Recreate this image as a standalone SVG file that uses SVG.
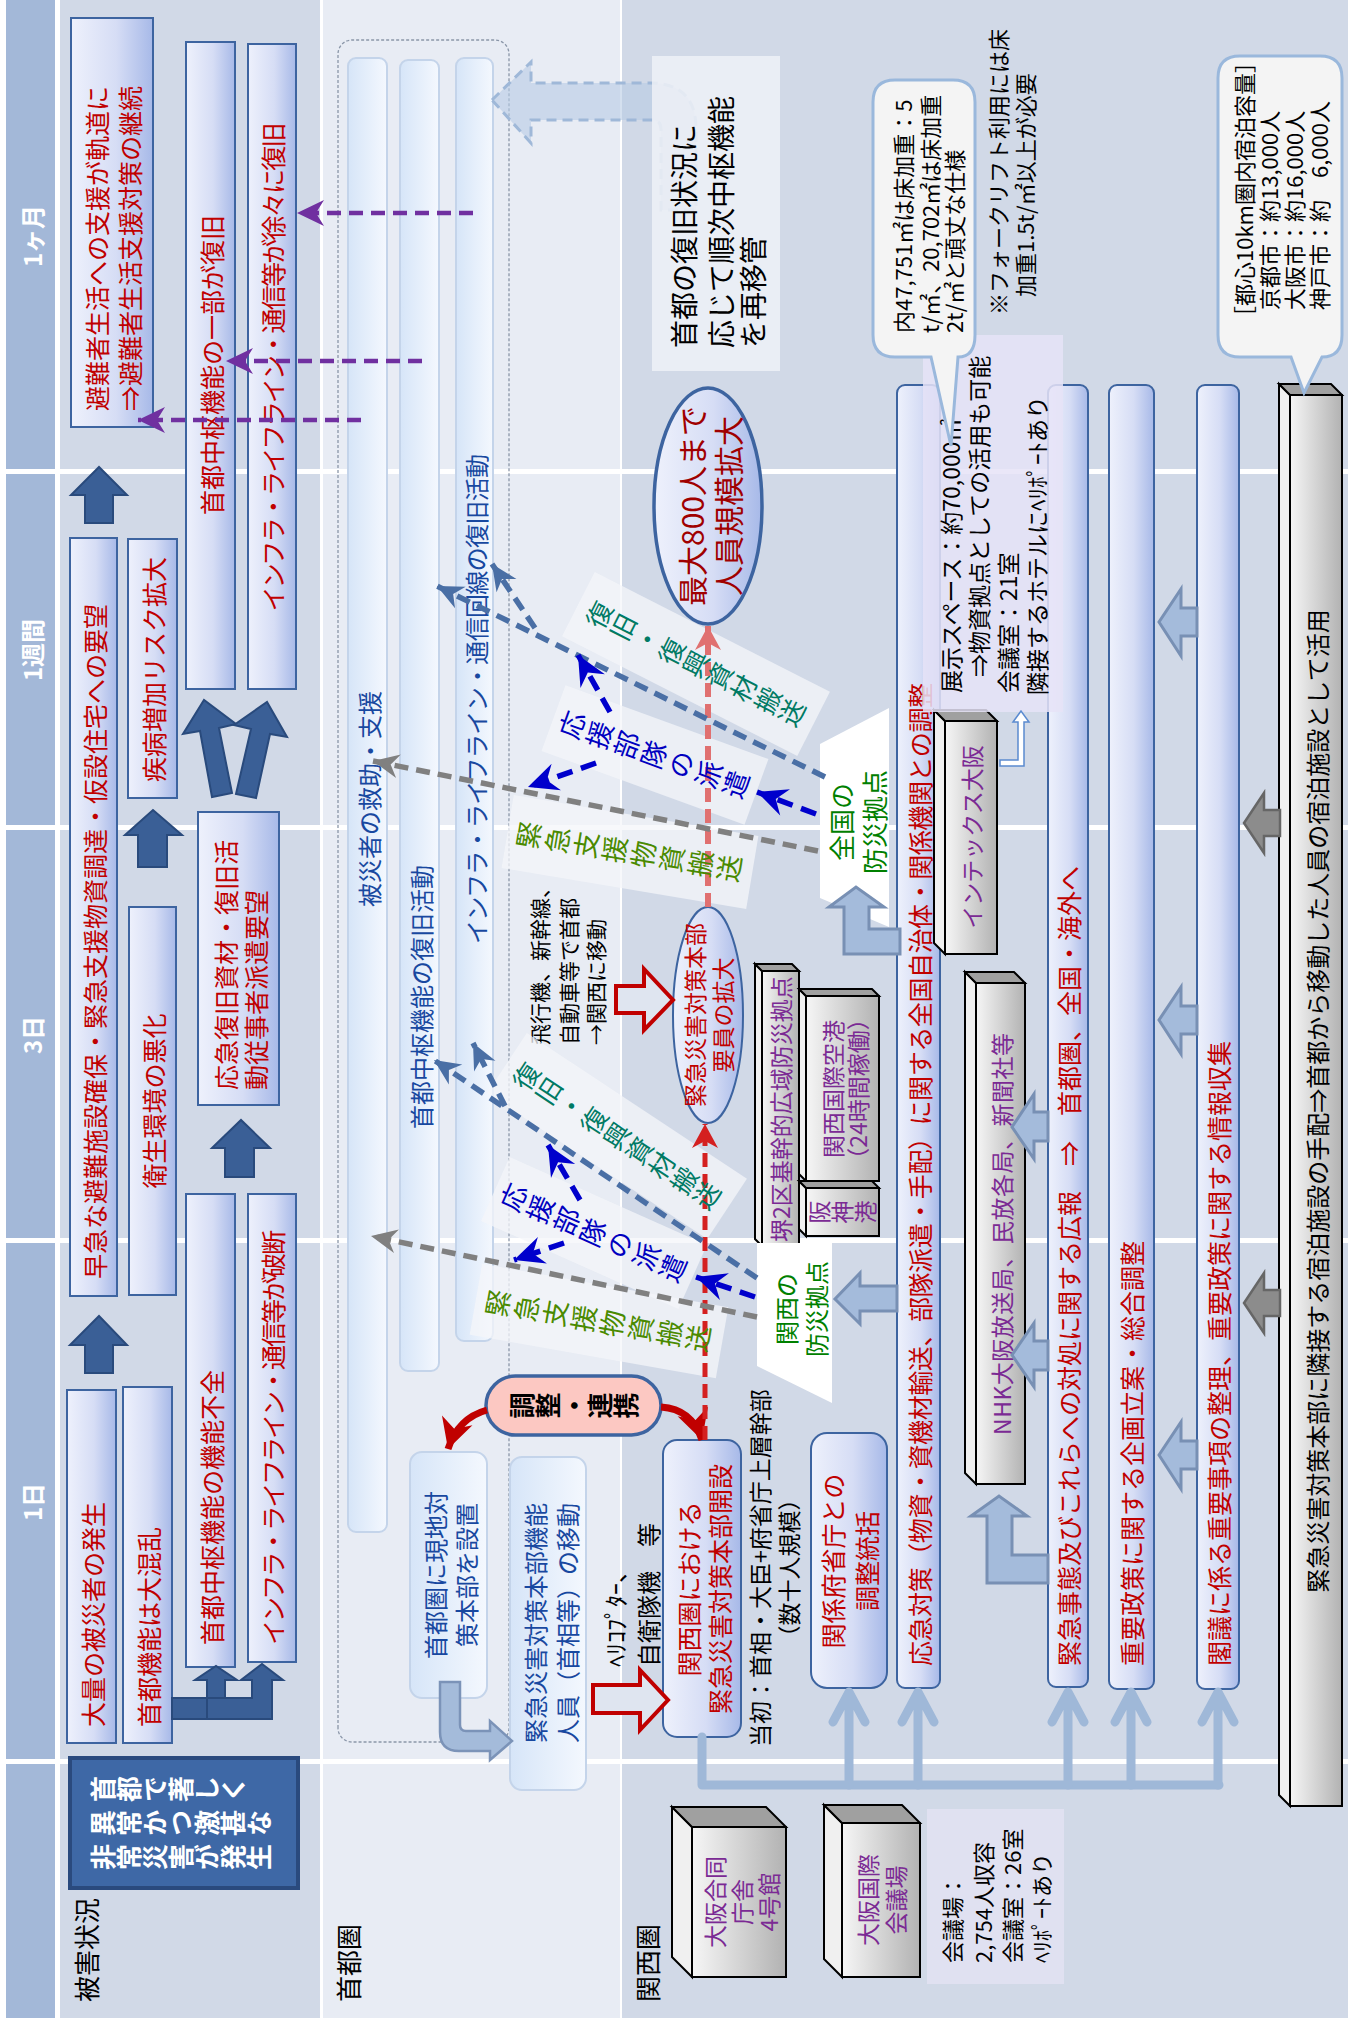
<svg xmlns="http://www.w3.org/2000/svg" width="1348" height="2022" viewBox="0 0 1348 2022">
<style>
text{font-family:"Noto Sans CJK JP","Noto Sans",sans-serif;dominant-baseline:central}
.hd{fill:#fff;font-size:24px;font-weight:bold;text-anchor:middle}
.lb{fill:#000;font-size:26px}
.hb{fill:url(#gB);stroke:#3d64a0;stroke-width:2}
.rt{fill:#c00000;font-size:25px}
.bt{fill:#1848a0;font-size:24px}
.sb{fill:url(#gL);stroke:#c4d4ea;stroke-width:2}
.darr{fill:#3a5f96;stroke:#294a7c;stroke-width:2}
.larr{fill:#a4bbdb;stroke:#7890b4;stroke-width:3}
.garr{fill:#8c8c8c;stroke:#666;stroke-width:2.5}
.ff{fill:url(#gG);stroke:#000;stroke-width:2}
.tf{fill:#f0f0f0;stroke:#000;stroke-width:2}
.ef{fill:#a0a0a0;stroke:#000;stroke-width:2}
.pt{fill:#7b2a94;font-size:23px;text-anchor:middle}
.bk{fill:#000;font-size:22px}
.m{text-anchor:middle}
.vt{writing-mode:vertical-rl}
.dg{fill:none;stroke:#808080;stroke-width:5.5;stroke-dasharray:14 8;marker-end:url(#aGray)}
.dn{fill:none;stroke:#0000cc;stroke-width:5.5;stroke-dasharray:16 9;marker-end:url(#aNavy)}
.ds{fill:none;stroke:#4a6fa5;stroke-width:5.5;stroke-dasharray:14 8;marker-end:url(#aSteel)}
.dp{fill:none;stroke:#7030a0;stroke-width:4.5;stroke-dasharray:14 8;marker-end:url(#aPur)}
.lbl{fill:#f4f6fa;fill-opacity:0.75}
.tl{fill:#007a64;font-size:26px;text-anchor:middle}
.nv{fill:#0000c0;font-size:27px;text-anchor:middle}
.ol{fill:#4a8a00;font-size:27px;text-anchor:middle}
</style>
<defs>
<linearGradient id="gB" x1="0" y1="0" x2="0" y2="1"><stop offset="0" stop-color="#eef1fc"/><stop offset="0.55" stop-color="#d6ddf5"/><stop offset="1" stop-color="#a7b9e8"/></linearGradient>
<linearGradient id="gL" x1="0" y1="0" x2="0" y2="1"><stop offset="0" stop-color="#d6e5f8"/><stop offset="1" stop-color="#f4f8fe"/></linearGradient>
<linearGradient id="gG" x1="0" y1="0" x2="0" y2="1"><stop offset="0" stop-color="#f6f6f6"/><stop offset="1" stop-color="#b2b2b2"/></linearGradient>
<marker id="aGray" markerUnits="userSpaceOnUse" markerWidth="32" markerHeight="30" viewBox="-30 -15 32 30" refX="0" refY="0" orient="auto"><path d="M0,0 L-26,-12 L-18,0 L-26,12 Z" fill="#808080"/></marker>
<marker id="aNavy" markerUnits="userSpaceOnUse" markerWidth="34" markerHeight="34" viewBox="-32 -17 34 34" refX="0" refY="0" orient="auto"><path d="M0,0 L-30,-14 L-20,0 L-30,14 Z" fill="#0000cc"/></marker>
<marker id="aSteel" markerUnits="userSpaceOnUse" markerWidth="32" markerHeight="30" viewBox="-30 -15 32 30" refX="0" refY="0" orient="auto"><path d="M0,0 L-26,-12 L-18,0 L-26,12 Z" fill="#4a6fa5"/></marker>
<marker id="aPur" markerUnits="userSpaceOnUse" markerWidth="32" markerHeight="30" viewBox="-30 -15 32 30" refX="0" refY="0" orient="auto"><path d="M0,0 L-27,-13 L-19,0 L-27,13 Z" fill="#7030a0"/></marker>
<marker id="aRed" markerUnits="userSpaceOnUse" markerWidth="34" markerHeight="36" viewBox="-32 -18 34 36" refX="0" refY="0" orient="auto"><path d="M0,0 L-30,-16 L-21,0 L-30,16 Z" fill="#c00000"/></marker>
<marker id="aRd" markerUnits="userSpaceOnUse" markerWidth="30" markerHeight="30" viewBox="-28 -15 30 30" refX="0" refY="0" orient="auto"><path d="M0,0 L-24,-13 L-17,0 L-24,13 Z" fill="#d42020"/></marker>
<marker id="aPk" markerUnits="userSpaceOnUse" markerWidth="30" markerHeight="30" viewBox="-28 -15 30 30" refX="0" refY="0" orient="auto"><path d="M0,0 L-24,-13 L-17,0 L-24,13 Z" fill="#e07070"/></marker>
</defs>
<rect width="1348" height="2022" fill="#fff"/>
<g transform="matrix(0,-1,1,0,0,2022)">
<g id="bands">
<rect x="4" y="6" width="2018" height="49" fill="#a3b8d8"/>
<rect x="4" y="60" width="2018" height="260" fill="#d1d9e7"/>
<rect x="4" y="323" width="2018" height="297" fill="#e8ecf4"/>
<rect x="4" y="622" width="2018" height="726" fill="#d1d9e7"/>
<g fill="#fff"><rect x="258" y="0" width="5" height="1348"/><rect x="779" y="0" width="5" height="1348"/><rect x="1192" y="0" width="5" height="1348"/><rect x="1548" y="0" width="5" height="1348"/></g>
<text class="hd" x="520" y="31">1日</text>
<text class="hd" x="987" y="31">3日</text>
<text class="hd" x="1372" y="31">1週間</text>
<text class="hd" x="1786" y="31">1ヶ月</text>
<text class="lb" x="20" y="85">被害状況</text>
<text class="lb" x="20" y="347">首都圏</text>
<text class="lb" x="20" y="646">関西圏</text>
</g>
<g id="n-disaster">
<rect x="134" y="70" width="130" height="228" fill="#3e68a6" stroke="#2a4a7e" stroke-width="4"/>
<text class="vt" x="233" y="90" fill="#fff" font-size="26" font-weight="bold">首都で著しく</text>
<text class="vt" x="199" y="90" fill="#fff" font-size="26" font-weight="bold">異常かつ激甚な</text>
<text class="vt" x="165" y="90" fill="#fff" font-size="26" font-weight="bold">非常災害が発生</text>
</g>
<g id="n-h1"><rect class="hb" x="279" y="67" width="353" height="49"/><text class="rt" x="295" y="92" font-size="26">大量の被災者の発生</text></g>
<g id="n-h2"><rect class="hb" x="279" y="123" width="356" height="49"/><text class="rt" x="295" y="148" font-size="26">首都機能は大混乱</text></g>
<g id="n-h3"><rect class="hb" x="355" y="186" width="473" height="49"/><text class="rt" x="377" y="211">首都中枢機能の機能不全</text></g>
<g id="n-h4"><rect class="hb" x="360" y="248" width="468" height="48"/><text class="rt" x="377" y="272" textLength="415">インフラ・ライフライン・通信等が破断</text></g>
<g id="n-h5"><rect class="hb" x="726" y="70" width="758" height="47"/><text class="rt" x="743" y="94">早急な避難施設確保・緊急支援物資調達・仮設住宅への要望</text></g>
<g id="n-h6"><rect class="hb" x="727" y="129" width="388" height="47"/><text class="rt m" x="921" y="153">衛生環境の悪化</text></g>
<g id="n-h7"><rect class="hb" x="1224" y="128" width="259" height="49"/><text class="rt" x="1240" y="153">疾病増加リスク拡大</text></g>
<g id="n-h8"><rect class="hb" x="917" y="198" width="293" height="81"/><text class="rt" x="932" y="225">応急復旧資材・復旧活</text><text class="rt" x="932" y="255">動従事者派遣要望</text></g>
<g id="n-h9"><rect class="hb" x="1333" y="186" width="647" height="49"/><text class="rt m" x="1657" y="211" font-size="26">首都中枢機能の一部が復旧</text></g>
<g id="n-h10"><rect class="hb" x="1333" y="248" width="645" height="48"/><text class="rt m" x="1655" y="272" textLength="489">インフラ・ライフライン・通信等が徐々に復旧</text></g>
<g id="n-h11"><rect class="hb" x="1595" y="71" width="409" height="82"/><text class="rt" x="1611" y="96" font-size="26">避難者生活への支援が軌道に</text><text class="rt" x="1611" y="129" font-size="26">⇒避難者生活支援対策の継続</text></g>
<g id="n-container"><rect x="280" y="338" width="1702" height="171" rx="14" fill="none" stroke="#8a96a8" stroke-width="1.3" stroke-dasharray="3 2"/></g>
<g id="n-barA"><rect class="sb" x="490" y="348" width="1474" height="39" rx="8"/><text class="bt" x="1115" y="368">被災者の救助・支援</text></g>
<g id="n-barB"><rect class="sb" x="651" y="400" width="1311" height="39" rx="8"/><text class="bt" x="893" y="420" font-size="25">首都中枢機能の復旧活動</text></g>
<g id="n-barC"><rect class="sb" x="681" y="456" width="1283" height="37" rx="8"/><text class="bt" x="1078" y="475" textLength="490">インフラ・ライフライン・通信回線の復旧活動</text></g>
<g id="n-local"><rect class="sb" x="324" y="410" width="246" height="77" rx="12"/><text class="bt m" x="447" y="434" font-size="25">首都圏に現地対</text><text class="bt m" x="447" y="465" font-size="25">策本部を設置</text></g>
<g id="n-move"><rect class="sb" x="232" y="510" width="333" height="76" rx="12"/><text class="bt m" x="399" y="534" font-size="25">緊急災害対策本部機能</text><text class="bt m" x="399" y="566" font-size="25">人員（首相等）の移動</text></g>
<g id="n-coord"><rect x="587" y="486" width="59" height="175" rx="29.5" fill="#fcc8c2" stroke="#3d64a0" stroke-width="3.5"/><text class="vt m" x="616.5" y="574" font-size="26" font-weight="bold" fill="#000">調整・連携</text></g>
<g id="n-return">
<path d="M1922,492 L1960,531 L1939,531 L1939,650 Q1939,696 1893,696 L1812,696 L1812,661 L1893,661 Q1902,661 1902,652 L1902,531 L1879,531 Z" fill="#b8cbe4" fill-opacity="0.6" stroke="#9fb8d8" stroke-width="3" stroke-dasharray="10 6"/>
<rect x="1651" y="652" width="315" height="128" fill="#eef1f7" fill-opacity="0.85"/>
<text x="1674" y="683" font-size="28" fill="#000">首都の復旧状況に</text>
<text x="1674" y="720" font-size="28" fill="#000">応じて順次中枢機能</text>
<text x="1674" y="752" font-size="28" fill="#000">を再移管</text>
</g>
<g id="n-kbox"><rect class="hb" x="285" y="663" width="297" height="78" rx="14"/><text class="rt m" x="433" y="688" font-size="26">関西圏における</text><text class="rt m" x="433" y="719" font-size="24">緊急災害対策本部開設</text></g>
<g id="n-init"><text class="m" x="454" y="759" font-size="23" fill="#000">当初：首相・大臣+府省庁上層幹部</text><text class="m" x="454" y="788" font-size="23" fill="#000">（数十人規模）</text></g>
<g id="n-kfu"><rect class="hb" x="334" y="811" width="255" height="76" rx="16"/><text class="rt m" x="461" y="832" font-size="26">関係府省庁との</text><text class="rt m" x="461" y="866" font-size="26">調整統括</text></g>
<g id="n-bar1"><rect class="hb" x="334" y="897" width="1303" height="43" rx="8"/><text class="rt" x="356" y="919" textLength="983">応急対策（物資・資機材輸送、部隊派遣・手配）に関する全国自治体・関係機関との調整</text></g>
<g id="n-bar2"><rect class="hb" x="335" y="1048" width="1302" height="40" rx="8"/><text class="rt" x="356" y="1068">緊急事態及びこれらへの対処に関する広報　⇒　首都圏、全国・海外へ</text></g>
<g id="n-bar3"><rect class="hb" x="333" y="1109" width="1304" height="45" rx="8"/><text class="rt" x="356" y="1131" font-size="26">重要政策に関する企画立案・総合調整</text></g>
<g id="n-bar4"><rect class="hb" x="333" y="1197" width="1304" height="42" rx="8"/><text class="rt" x="356" y="1218" font-size="26">閣議に係る重要事項の整理、重要政策に関する情報収集</text></g>
<g id="n-hotel">
<rect class="ff" x="216" y="1290" width="1411" height="52"/>
<polygon class="tf" points="216,1290 227,1279 1638,1279 1627,1290"/>
<polygon class="ef" points="1627,1290 1638,1279 1638,1331 1627,1342"/>
<text class="m" x="921" y="1316" font-size="24" fill="#000">緊急災害対策本部に隣接する宿泊施設の手配⇒首都から移動した人員の宿泊施設として活用</text>
</g>
<g id="n-intex">
<rect class="ff" x="1068" y="945" width="233" height="52"/>
<polygon class="tf" points="1068,945 1079,934 1312,934 1301,945"/>
<polygon class="ef" points="1301,945 1312,934 1312,986 1301,997"/>
<text class="pt" x="1185" y="971">インテックス大阪</text>
</g>
<g id="n-nhk">
<rect class="ff" x="538" y="976" width="501" height="49"/>
<polygon class="tf" points="538,976 549,965 1050,965 1039,976"/>
<polygon class="ef" points="1039,976 1050,965 1050,1014 1039,1025"/>
<text class="pt" x="788" y="1001" textLength="402">NHK大阪放送局、民放各局、新聞社等</text>
</g>
<g id="n-sakai">
<rect class="ff" x="776" y="762" width="275" height="37"/>
<polygon class="tf" points="776,762 783,755 1058,755 1051,762"/>
<polygon class="ef" points="1051,762 1058,755 1058,792 1051,799"/>
<text class="pt" x="913" y="780" font-size="22">堺2区基幹的広域防災拠点</text>
</g>
<g id="n-kix">
<rect class="ff" x="841" y="806" width="185" height="73"/>
<polygon class="tf" points="841,806 848,799 1033,799 1026,806"/>
<polygon class="ef" points="1026,806 1033,799 1033,872 1026,879"/>
<text class="pt" x="933" y="832" font-size="21">関西国際空港</text>
<text class="pt" x="933" y="857" font-size="21">（24時間稼働）</text>
</g>
<g id="n-hanshin">
<rect class="ff" x="786" y="806" width="48" height="73"/>
<polygon class="tf" points="786,806 793,799 841,799 834,806"/>
<polygon class="ef" points="834,806 841,799 841,872 834,879"/>
<text class="pt vt" x="810" y="842" font-size="20">阪神港</text>
</g>
<g id="n-godo">
<rect class="ff" x="45" y="692" width="150" height="94"/>
<polygon class="tf" points="45,692 65,672 215,672 195,692"/>
<polygon class="ef" points="195,692 215,672 215,766 195,786"/>
<text class="pt" x="120" y="714">大阪合同</text><text class="pt" x="120" y="741">庁舎</text><text class="pt" x="120" y="768">4号館</text>
</g>
<g id="n-oicc">
<rect class="ff" x="45" y="842" width="154" height="78"/>
<polygon class="tf" points="45,842 63,824 217,824 199,842"/>
<polygon class="ef" points="199,842 217,824 217,902 199,920"/>
<text class="pt" x="122" y="867">大阪国際</text><text class="pt" x="122" y="895">会議場</text>
</g>
<g id="n-oiccnote">
<rect x="38" y="927" width="175" height="137" fill="#e0e1f1"/>
<text class="bk" x="59" y="951">会議場：</text><text class="bk" x="59" y="982">2,754人収容</text><text class="bk" x="59" y="1011">会議室：26室</text><text class="bk" x="59" y="1040">ﾍﾘﾎﾟｰﾄあり</text>
</g>
<g id="n-zenkoku"><polygon points="1278,820 1314,889 1095,889 1124,820" fill="#fff"/><text class="m" x="1200" y="840" font-size="26" fill="#008000">全国の</text><text class="m" x="1200" y="873" font-size="26" fill="#008000">防災拠点</text></g>
<g id="n-kansai"><polygon points="779,757 779,832 619,832 656,757" fill="#fff"/><text class="m" x="713" y="785" font-size="24" fill="#008000">関西の</text><text class="m" x="713" y="815" font-size="24" fill="#008000">防災拠点</text></g>
<g id="n-el1"><ellipse cx="1007" cy="708" rx="108" ry="35" fill="url(#gB)" stroke="#3d64a0" stroke-width="2"/><text class="m" x="1007" y="694" font-size="23" fill="#c00000">緊急災害対策本部</text><text class="m" x="1007" y="722" font-size="23" fill="#c00000">要員の拡大</text></g>
<g id="n-el2"><ellipse cx="1516" cy="708" rx="118" ry="54" fill="url(#gB)" stroke="#3d64a0" stroke-width="3.5"/><text class="m" x="1516" y="691" font-size="30" fill="#a00000">最大800人まで</text><text class="m" x="1516" y="727" font-size="30" fill="#a00000">人員規模拡大</text></g>
<g id="n-plane"><text x="977" y="539" font-size="21" fill="#000">飛行機、新幹線、</text><text x="977" y="568" font-size="21" fill="#000">自動車等で首都</text><text x="977" y="595" font-size="21" fill="#000">→関西に移動</text></g>
<g id="n-heli"><text x="355" y="614" font-size="24" fill="#000">ﾍﾘｺﾌﾟﾀｰ、</text><text x="355" y="647" font-size="24" fill="#000">自衛隊機　等</text></g>
<g id="n-expo">
<rect x="1310" y="923" width="377" height="140" fill="#e6e3f7" fill-opacity="0.85"/>
<text x="1329" y="950" font-size="23" fill="#000">展示スペース：約70,000㎡</text>
<text x="1345" y="978" font-size="23" fill="#000">⇒物資拠点としての活用も可能</text>
<text x="1329" y="1007" font-size="23" fill="#000">会議室：21室</text>
<text x="1327" y="1036" font-size="23" fill="#000">隣接するホテルにﾍﾘﾎﾟｰﾄあり</text>
</g>
<g id="n-call1">
<path d="M1665,931 L1665,895 Q1665,873 1687,873 L1920,873 Q1942,873 1942,895 L1942,953 Q1942,975 1920,975 L1687,975 Q1665,975 1665,958 L1576,951 Z" fill="#f4f4f4" stroke="#9ab8dc" stroke-width="3"/>
<text class="bk" x="1689" y="902">内47,751㎡は床加重：5</text>
<text class="bk" x="1689" y="929">t/㎡、20,702㎡は床加重</text>
<text class="bk" x="1689" y="953">2t/㎡と頑丈な仕様</text>
</g>
<g id="n-note"><text class="bk" x="1707" y="997">※フォークリフト利用には床</text><text class="bk" x="1725" y="1024">加重1.5t/㎡以上が必要</text></g>
<g id="n-call2">
<path d="M1665,1291 L1665,1240 Q1665,1218 1687,1218 L1944,1218 Q1966,1218 1966,1240 L1966,1320 Q1966,1342 1944,1342 L1687,1342 Q1665,1342 1665,1322 L1629,1304 Z" fill="#f4f4f4" stroke="#9ab8dc" stroke-width="3"/>
<text class="bk" x="1694" y="1243">［都心10km圏内宿泊容量］</text>
<text class="bk" x="1712" y="1268">京都市：約13,000人</text>
<text class="bk" x="1712" y="1293">大阪市：約16,000人</text>
<text class="bk" x="1712" y="1318">神戸市：約　6,000人</text>
</g>
<g id="n-labels-bg">
<rect class="lbl" transform="translate(1358,696) rotate(27)" x="-36" y="-132" width="72" height="264"/>
<rect class="lbl" transform="translate(1267,655) rotate(20)" x="-35" y="-108" width="70" height="216"/>
<rect class="lbl" transform="translate(1170,630) rotate(9.5)" x="-37" y="-124" width="74" height="248"/>
<rect class="lbl" transform="translate(886,617) rotate(33.5)" x="-36" y="-132" width="72" height="264"/>
<rect class="lbl" transform="translate(789,594) rotate(24)" x="-35" y="-108" width="70" height="216"/>
<rect class="lbl" transform="translate(701,599) rotate(10)" x="-36" y="-125" width="72" height="250"/>
</g>
<g id="connectors">
<path class="darr" d="M649,85 L677,85 L677,70 L706,99 L677,127 L677,113 L649,113 Z"/>
<path class="darr" d="M1155,138 L1187,138 L1187,125 L1212,153 L1187,182 L1187,167 L1155,167 Z"/>
<path class="darr" d="M845,225 L874,225 L874,212 L902,241 L874,270 L874,254 L845,254 Z"/>
<path class="darr" d="M1499,85 L1527,85 L1527,71 L1555,99 L1527,127 L1527,113 L1499,113 Z"/>
<path class="darr" d="M1225,212 L1291,200 L1288,183 L1322,204 L1298,236 L1294,219 L1229,232 Z"/>
<path class="darr" d="M1228,236 L1293,251 L1297,234 L1320,267 L1285,287 L1288,270 L1224,256 Z"/>
<path class="darr" d="M324,172 L324,207 L342,207 L342,195 L356,216 L342,237 L342,225 L303,225 L303,172 Z"/>
<path class="darr" d="M324,207 L324,252 L342,252 L342,241 L358,262 L342,283 L342,272 L303,272 L303,207 Z"/>
<path class="dp" d="M1809,473 L1809,297"/>
<path class="dp" d="M1661,422 L1661,226"/>
<path class="dp" d="M1602,361 L1602,138"/>
<path d="M340,440 L290,440 Q271,440 271,459 L271,490 L262,490 L281,512 L301,490 L291,490 L291,466 Q291,460 297,460 L340,460 Z" fill="#a4bbda" stroke="#7b93b8" stroke-width="2.5"/>
<path d="M612,487 Q604,458 573,448" fill="none" stroke="#c00000" stroke-width="7" marker-end="url(#aRed)"/>
<path d="M615,661 Q613,692 582,702" fill="none" stroke="#c00000" stroke-width="7" marker-end="url(#aRed)"/>
<path d="M309,593 L337,593 L337,640 L352,640 L322,668 L292,640 L309,640 Z" fill="#dfe5f0" stroke="#c00000" stroke-width="4"/>
<path d="M1009,616 L1036,616 L1036,644 L1053,644 L1022,673 L992,644 L1009,644 Z" fill="#dfe5f0" stroke="#c00000" stroke-width="4"/>
<path d="M582,705 L898,705" fill="none" stroke="#d42020" stroke-width="5" stroke-dasharray="14 7" marker-end="url(#aRd)"/>
<path d="M1115,708 L1396,708" fill="none" stroke="#e07070" stroke-width="6" stroke-dasharray="14 7" marker-end="url(#aPk)"/>
<path class="dg" d="M1171,818 L1261,373"/>
<path class="ds" d="M1245,825 L1436,437"/>
<path class="ds" d="M1394,535 L1458,492"/>
<path class="dn" d="M1208,816 L1230,757"/>
<path class="dn" d="M1259,596 L1235,528"/>
<path class="dn" d="M1310,610 L1367,578"/>
<path class="dg" d="M705,757 L786,371"/>
<path class="ds" d="M744,757 L962,434"/>
<path class="ds" d="M916,505 L979,473"/>
<path class="dn" d="M725,755 L745,696"/>
<path class="dn" d="M779,564 L762,514"/>
<path class="dn" d="M822,580 L877,548"/>
<g fill="none" stroke="#9fb8d8" stroke-width="9" stroke-linecap="round" stroke-linejoin="round">
<path d="M285,702 L237,702 L237,1219"/>
<path d="M237,849 L328,849 M300,833 L330,849 L300,865"/>
<path d="M237,918 L328,918 M300,902 L330,918 L300,934"/>
<path d="M237,1068 L328,1068 M300,1052 L330,1068 L300,1084"/>
<path d="M237,1131 L328,1131 M300,1115 L330,1131 L300,1147"/>
<path d="M237,1218 L328,1218 M300,1202 L330,1218 L300,1234"/>
</g>
<path class="larr" d="M711,897 L711,860 L698,860 L723,835 L749,860 L736,860 L736,897 Z"/>
<path class="larr" d="M1068,900 L1068,844 L1115,844 L1115,829 L1135,856 L1115,884 L1115,869 L1093,869 L1093,900 Z"/>
<path class="larr" d="M439,1048 L439,987 L506,987 L506,971 L526,999 L506,1027 L506,1012 L467,1012 L467,1048 Z"/>
<path class="larr" d="M881,1048 L881,1034 L863,1034 L895,1012 L928,1034 L910,1034 L910,1048 Z"/>
<path class="larr" d="M652,1048 L652,1034 L635,1034 L667,1012 L699,1034 L681,1034 L681,1048 Z"/>
<path class="larr" d="M1386,1197 L1386,1181 L1366,1181 L1400,1159 L1433,1181 L1414,1181 L1414,1197 Z"/>
<path class="larr" d="M988,1197 L988,1181 L968,1181 L1002,1159 L1035,1181 L1016,1181 L1016,1197 Z"/>
<path class="larr" d="M553,1197 L553,1181 L533,1181 L567,1159 L600,1181 L581,1181 L581,1197 Z"/>
<path class="garr" d="M1186,1280 L1186,1264 L1169,1264 L1199,1244 L1229,1264 L1212,1264 L1212,1280 Z"/>
<path class="garr" d="M706,1280 L706,1264 L689,1264 L719,1244 L749,1264 L732,1264 L732,1280 Z"/>
<path d="M1256,1000 L1262,1000 L1262,1018 L1300,1018 L1300,1013 L1311,1021 L1300,1029 L1300,1024 L1256,1024 Z" fill="#fff" stroke="#5b8bd0" stroke-width="1.5"/>
</g>
<g id="n-labels">
<text class="tl vt" transform="translate(1358,696) rotate(27)" x="0" y="0" letter-spacing="1">復旧・復興資材搬送</text>
<text class="nv vt" transform="translate(1267,655) rotate(20)" x="0" y="0" letter-spacing="2">応援部隊の派遣</text>
<text class="ol vt" transform="translate(1170,630) rotate(9.5)" x="0" y="0" letter-spacing="2">緊急支援物資搬送</text>
<text class="tl vt" transform="translate(886,617) rotate(33.5)" x="0" y="0" letter-spacing="1">復旧・復興資材搬送</text>
<text class="nv vt" transform="translate(789,594) rotate(24)" x="0" y="0" letter-spacing="2">応援部隊の派遣</text>
<text class="ol vt" transform="translate(701,599) rotate(10)" x="0" y="0" letter-spacing="2">緊急支援物資搬送</text>
</g>
</g>
</svg>
